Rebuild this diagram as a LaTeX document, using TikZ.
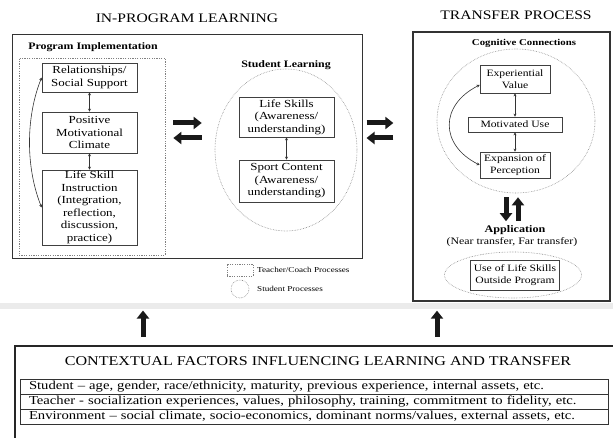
\documentclass[tikz,border=0pt]{standalone}
\usepackage{fontspec}
\setmainfont{Liberation Serif}[FakeStretch=1.2]
\usetikzlibrary{arrows.meta,shapes.geometric}

\begin{document}
\begin{tikzpicture}[x=1pt,y=-1pt,
  proc/.style={draw=black!75,line width=0.7pt,align=center,inner sep=0pt,font=\fontsize{10.8pt}{12.5pt}\selectfont},
  small/.style={font=\fontsize{9.7pt}{11.5pt}\selectfont},
  teach/.style={draw=black!50,line width=0.7pt,dash pattern=on 1.2pt off 1.2pt,inner sep=0pt},
  stud/.style={draw=black!45,line width=0.6pt,densely dotted,ellipse,inner sep=0pt},
  head/.style={font=\fontsize{13pt}{15pt}\selectfont},
  sub/.style={inner sep=1pt,font=\bfseries\fontsize{9.9pt}{12pt}\selectfont},
  frame/.style={draw=black!80,line width=1pt,inner sep=0pt},
  twoway/.style={black!80,line width=0.6pt,{Stealth[length=3pt,width=3pt]}-{Stealth[length=3pt,width=3pt]}},
  fatarrow/.style={black!90,line width=5pt,-{Triangle[length=8pt,width=12pt]}},
  key/.style={anchor=west,inner sep=0pt,font=\fontsize{7.6pt}{9pt}\selectfont},
  row/.style={draw=black!80,line width=0.7pt,minimum width=588pt,minimum height=15pt,text width=586pt,inner sep=0pt,align=left,font=\fontsize{12.2pt}{14pt}\selectfont}]
\fill[white] (0,0) rectangle (613,438);
\useasboundingbox (0,0) rectangle (613,438);
\fill[black!8] (0,303) rectangle (613,309);

% in-program learning
\node[head] (tin) at (187,18) {IN-PROGRAM LEARNING};
\node[frame,minimum width=350pt,minimum height=224pt] (inprog) at (187,147) {};
\node[sub] (timpl) at (93,47) {Program Implementation};
\node[teach,minimum width=146pt,minimum height=197pt] (impl) at (92,156.5) {};
\node[proc,minimum width=95pt,minimum height=29pt] (rel) at (89.5,77.5) {Relationships/\\Social Support};
\node[proc,minimum width=95pt,minimum height=41pt] (pmc) at (89.5,132.5) {Positive\\Motivational\\Climate};
\node[proc,minimum width=95pt,minimum height=75pt] (lsi) at (89.5,207.5) {Life Skill\\Instruction\\(Integration,\\reflection,\\discussion,\\practice)};
\draw[twoway] (rel) -- (pmc);
\draw[twoway] (pmc) -- (lsi);
\draw[twoway] (lsi.west) .. controls +(-16,-40) and +(-16,40) .. (rel.west);

\node[sub] (tlearn) at (286,65) {Student Learning};
\node[stud,minimum width=142pt,minimum height=162pt] (learn) at (286,150) {};
\node[proc,minimum width=95pt,minimum height=40pt] (ls) at (286.5,117) {Life Skills\\(Awareness/\\understanding)};
\node[proc,minimum width=95pt,minimum height=42pt] (sc) at (286.5,181) {Sport Content\\(Awareness/\\understanding)};
\draw[twoway] (ls) -- (sc);

\draw[fatarrow] ([xshift=8pt,yshift=33.5pt]impl.east) -- ([xshift=-13pt,yshift=27pt]learn.west);
\draw[fatarrow] ([xshift=-13pt,yshift=12pt]learn.west) -- ([xshift=8pt,yshift=18.5pt]impl.east);

% key
\node[teach,minimum width=26pt,minimum height=12pt] (kteach) at (240,270) {};
\node[key] (kteachtx) at (257,270) {Teacher/Coach Processes};
\node[stud,circle,minimum size=18pt] (kstud) at (240,289) {};
\node[key] (kstudtx) at (257,289) {Student Processes};

% transfer process
\node[head] (ttr) at (516,15) {TRANSFER PROCESS};
\node[frame,line width=1.3pt,minimum width=197pt,minimum height=269pt] (transfer) at (511.5,166.5) {};
\node[sub,font=\bfseries\fontsize{9pt}{11pt}\selectfont] (tcog) at (524,43) {Cognitive Connections};
\node[stud,minimum width=158pt,minimum height=144pt] (cog) at (516,121) {};
\node[proc,small,minimum width=70pt,minimum height=28pt] (ev) at (515,79) {Experiential\\Value};
\node[proc,small,minimum width=94pt,minimum height=15pt] (mu) at (515,124.5) {Motivated Use};
\node[proc,small,minimum width=70pt,minimum height=26pt] (ep) at (515,165) {Expansion of\\Perception};
\draw[twoway] (ev) -- (mu);
\draw[twoway] (mu) -- (ep);
\draw[twoway] (ep.west) .. controls +(-40,-20) and +(-40,20) .. ([yshift=-6pt]ev.west);

\node[sub,font=\bfseries\fontsize{10.1pt}{12pt}\selectfont] (app) at (515,230) {Application};
\node[inner sep=0pt,font=\fontsize{9.9pt}{12pt}\selectfont] (appnote) at (512,242) {(Near transfer, Far transfer)};
\draw[fatarrow,shorten <=4pt,shorten >=3pt] ([xshift=-10pt]cog.south) -- ([xshift=-9pt]app.north);
\draw[fatarrow,shorten <=3pt,shorten >=4pt] ([xshift=3pt]app.north) -- ([xshift=2pt]cog.south);
\node[stud,minimum width=137pt,minimum height=46pt] (outer) at (513,275) {};
\node[proc,small,minimum width=89pt,minimum height=30pt] (use) at (515,275) {Use of Life Skills\\Outside Program};

\draw[fatarrow] ([xshift=4pt,yshift=24pt]inprog.east) -- ([xshift=-19pt,yshift=43.5pt]transfer.west);
\draw[fatarrow] ([xshift=-19pt,yshift=28.5pt]transfer.west) -- ([xshift=4pt,yshift=9pt]inprog.east);

% contextual factors
\node[minimum width=598pt,minimum height=92pt,inner sep=0pt] (ctx) at (314,392) {};
\draw[black!85,line width=2pt] (ctx.south west) -- (ctx.north west) -- (ctx.north east);
\node[head,font=\fontsize{13.4pt}{15pt}\selectfont] (tctx) at (318,361) {CONTEXTUAL FACTORS INFLUENCING LEARNING AND TRANSFER};
\node[row] (rstu) at (314,386.5) {\hspace*{8pt}Student -- age, gender, race/ethnicity, maturity, previous experience, internal assets, etc.};
\node[row] (rtea) at (314,401.5) {\hspace*{8pt}Teacher - socialization experiences, values, philosophy, training, commitment to fidelity, etc.};
\node[row] (renv) at (314,416.5) {\hspace*{8pt}Environment -- social climate, socio-economics, dominant norms/values, external assets, etc.};

\draw[fatarrow,shorten <=9pt,shorten >=51pt] ([xshift=-171pt]ctx.north) -- ([xshift=-44pt]inprog.south);
\draw[fatarrow,shorten <=9pt,shorten >=9pt] ([xshift=123pt]ctx.north) -- ([xshift=-74.5pt]transfer.south);
\end{tikzpicture}
\end{document}
